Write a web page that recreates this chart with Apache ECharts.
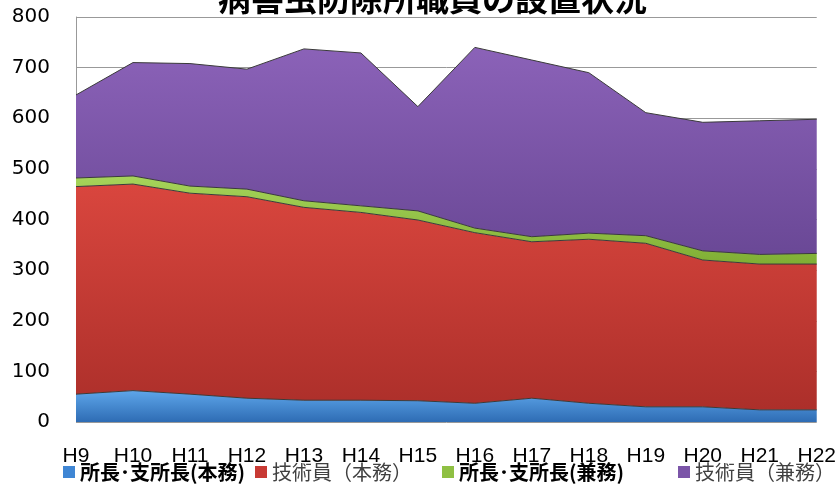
<!DOCTYPE html>
<html>
<head>
<meta charset="utf-8">
<script src="https://cdn.jsdelivr.net/npm/echarts@6/dist/echarts.min.js"></script>
<style>
  html, body { margin: 0; padding: 0; background: #fff; }
  #chart { width: 839px; height: 486px; }
</style>
</head>
<body>
<div id="chart"></div>
<script>
const years = ['H9', 'H10', 'H11', 'H12', 'H13', 'H14', 'H15', 'H16', 'H17', 'H18', 'H19', 'H20', 'H21', 'H22'];
// 所長・支所長(本務)
const chiefMain = [55, 62, 55, 47, 43, 43, 42, 37, 47, 37, 30, 30, 24, 24];
// 技術員(本務)
const staffMain = [410, 408, 397, 398, 381, 371, 357, 337, 309, 324, 323, 290, 288, 288];
// 所長・支所長(兼務)
const chiefSub = [17, 16, 14, 15, 13, 13, 18, 9, 10, 12, 15, 18, 19, 21];
// 技術員(兼務)
const staffSub = [164, 224, 242, 237, 300, 302, 206, 357, 349, 317, 243, 254, 264, 265];

const names = ['所長･支所長(本務)', '技術員（本務）', '所長･支所長(兼務)', '技術員（兼務）'];
const boldNames = [names[0], names[2]];

const grad = (top, bottom) => new echarts.graphic.LinearGradient(0, 0, 0, 1, [
  { offset: 0, color: top },
  { offset: 1, color: bottom }
]);

const makeSeries = (name, data, top, bottom, legendColor) => ({
  name: name,
  type: 'line',
  stack: 'total',
  data: data,
  symbol: 'none',
  color: legendColor,
  lineStyle: { color: '#3a3a3a', width: 1 },
  areaStyle: { color: grad(top, bottom), opacity: 1 },
  emphasis: { disabled: true }
});

// one legend box per item so that each sits where it does in the picture
const legendLefts = [58, 250, 437, 673];
const legends = names.map((n, i) => ({
  data: [n],
  left: legendLefts[i],
  top: 457,
  itemWidth: 12,
  itemHeight: 12,
  itemGap: 0,
  icon: 'rect',
  textStyle: {
    fontSize: 20,
    fontFamily: 'Noto Sans CJK JP',
    fontWeight: boldNames.includes(n) ? 'bold' : 'normal',
    color: boldNames.includes(n) ? '#000' : '#404040'
  }
}));

const chart = echarts.init(document.getElementById('chart'));
chart.setOption({
  animation: false,
  title: {
    text: '病害虫防除所職員の設置状況',
    left: 213,
    top: -23,
    textStyle: { fontSize: 33, fontWeight: 'bold', color: '#000', fontFamily: 'Noto Sans CJK JP' }
  },
  grid: { left: 76, right: 21, top: 17, bottom: 64 },
  legend: legends,
  xAxis: {
    type: 'category',
    data: years,
    boundaryGap: false,
    axisLine: { show: false },
    axisTick: { show: false },
    axisLabel: { fontSize: 21, color: '#000', margin: 24, fontFamily: 'Liberation Sans' }
  },
  yAxis: {
    type: 'value',
    min: 0,
    max: 800,
    interval: 100,
    axisLine: { show: true, lineStyle: { color: '#999' } },
    axisTick: { show: false },
    axisLabel: { fontSize: 20, color: '#000', margin: 26, fontFamily: 'DejaVu Sans' },
    splitLine: { lineStyle: { color: '#999', width: 1 } }
  },
  series: [
    makeSeries(names[0], chiefMain, '#5ea6ea', '#2e6cb4', '#3f86d4'),
    makeSeries(names[1], staffMain, '#d9463e', '#ac2f2a', '#c83a34'),
    makeSeries(names[2], chiefSub, '#a6d45a', '#7fae34', '#8fc043'),
    makeSeries(names[3], staffSub, '#8b62b8', '#6a4896', '#7b55a8')
  ]
});
</script>
</body>
</html>
